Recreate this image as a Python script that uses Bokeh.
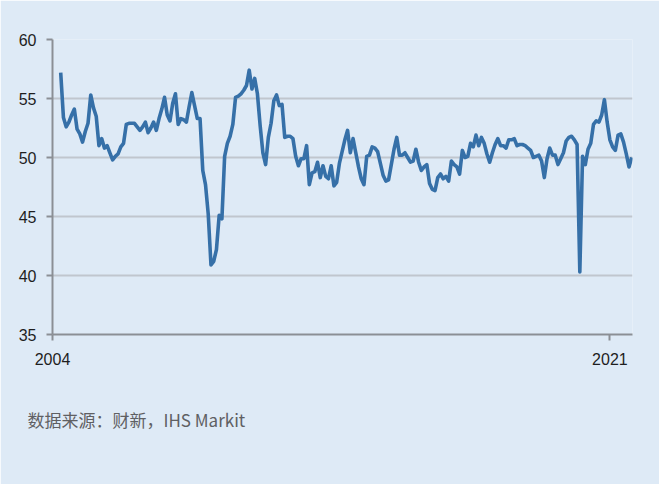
from bokeh.plotting import figure
from bokeh.models import FixedTicker, Title, Range1d, ColumnDataSource
from bokeh.embed import file_html
from bokeh.resources import INLINE

# Caixin China manufacturing PMI, monthly, Apr 2004 - Sep 2021
start_year = 2004
start_month = 4
pmi_2004 = [57.2, 53.4, 52.6, 53.0, 53.6, 54.1, 52.4, 52.0, 51.3]
pmi_2005 = [52.2, 52.9, 55.3, 54.2, 53.5, 51.0, 51.6, 50.8, 51.0, 50.4, 49.8, 50.1]
pmi_2006 = [50.3, 50.9, 51.2, 52.8, 52.9, 52.9, 52.9, 52.6, 52.3, 52.6, 53.0, 52.1]
pmi_2007 = [52.5, 53.0, 52.3, 53.3, 54.1, 55.1, 53.6, 53.1, 54.6, 55.4, 52.8, 53.3]
pmi_2008 = [53.2, 53.0, 54.3, 55.5, 54.4, 53.3, 53.3, 48.9, 47.7, 45.2, 40.9, 41.2]
pmi_2009 = [42.2, 45.1, 44.8, 50.1, 51.2, 51.8, 52.8, 55.1, 55.2, 55.4, 55.7, 56.1]
pmi_2010 = [57.4, 55.8, 56.7, 55.4, 52.7, 50.4, 49.4, 51.7, 52.9, 54.8, 55.3, 54.4]
pmi_2011 = [54.5, 51.7, 51.8, 51.8, 51.6, 50.1, 49.3, 49.9, 49.9, 51.0, 47.7, 48.7]
pmi_2012 = [48.8, 49.6, 48.3, 49.3, 48.4, 48.2, 49.3, 47.6, 47.9, 49.5, 50.5, 51.5]
pmi_2013 = [52.3, 50.4, 51.6, 50.4, 49.2, 48.2, 47.7, 50.1, 50.2, 50.9, 50.8, 50.5]
pmi_2014 = [49.5, 48.5, 48.0, 48.1, 49.4, 50.7, 51.7, 50.2, 50.2, 50.4, 50.0, 49.6]
pmi_2015 = [49.7, 50.7, 49.6, 48.9, 49.2, 49.4, 47.8, 47.3, 47.2, 48.3, 48.6, 48.2]
pmi_2016 = [48.4, 48.0, 49.7, 49.4, 49.2, 48.6, 50.6, 50.0, 50.1, 51.2, 50.9, 51.9]
pmi_2017 = [51.0, 51.7, 51.2, 50.3, 49.6, 50.4, 51.1, 51.6, 51.0, 51.0, 50.8, 51.5]
pmi_2018 = [51.5, 51.6, 51.0, 51.1, 51.1, 51.0, 50.8, 50.6, 50.0, 50.1, 50.2, 49.7]
pmi_2019 = [48.3, 49.9, 50.8, 50.2, 50.2, 49.4, 49.9, 50.4, 51.4, 51.7, 51.8, 51.5]
pmi_2020 = [51.1, 40.3, 50.1, 49.4, 50.7, 51.2, 52.8, 53.1, 53.0, 53.6, 54.9, 53.0]
pmi_2021 = [51.5, 50.9, 50.6, 51.9, 52.0, 51.3, 50.3, 49.2, 50.0]

y_ticks = [35, 40, 45, 50, 55, 60]
x_ticks = [2004, 2021]
x_tick_labels = ["2004", "2021"]
source_text = "数据来源：财新，IHS Markit"

values = (pmi_2004 + pmi_2005 + pmi_2006 + pmi_2007 + pmi_2008 + pmi_2009 +
          pmi_2010 + pmi_2011 + pmi_2012 + pmi_2013 + pmi_2014 + pmi_2015 +
          pmi_2016 + pmi_2017 + pmi_2018 + pmi_2019 + pmi_2020 + pmi_2021)
dates = []
for i in range(len(values)):
    m = start_month - 1 + i
    dates.append(start_year + m // 12 + (m % 12) / 12.0)

BG = "#deeaf6"
LINE = "#3670a8"
GRID = "#c0c6ce"
AXIS = "#8b8f95"
FONT = "Liberation Sans"

W, H = 659, 484
p = figure(width=W, height=H, output_backend="svg", toolbar_location=None,
           x_range=Range1d(2004, 2021.69), y_range=Range1d(35, 60),
           min_border_left=52, min_border_right=27, min_border_top=39,
           min_border_bottom=150)
p.background_fill_color = BG
p.border_fill_color = BG
p.outline_line_color = None

src = ColumnDataSource(dict(x=dates, y=values))
p.line("x", "y", source=src, line_color=LINE, line_width=3.6, line_join="round")

p.xgrid.grid_line_color = None
p.ygrid.grid_line_color = GRID
p.ygrid.grid_line_width = 2
p.ygrid.ticker = FixedTicker(ticks=y_ticks[1:])

p.yaxis.ticker = FixedTicker(ticks=y_ticks)
p.xaxis.ticker = FixedTicker(ticks=x_ticks)
p.xaxis.major_label_overrides = {t: l for t, l in zip(x_ticks, x_tick_labels)}
for ax in (p.xaxis, p.yaxis):
    ax.axis_line_color = AXIS
    ax.axis_line_width = 2
    ax.major_tick_line_color = AXIS
    ax.major_tick_line_width = 2
    ax.major_tick_out = 6
    ax.major_tick_in = 0
    ax.minor_tick_line_color = None
    ax.major_label_text_font = FONT
    ax.major_label_text_font_size = "16px"
    ax.major_label_text_color = "#1e1e1e"
p.yaxis.major_label_standoff = 10
p.xaxis.major_label_standoff = 12

p.add_layout(Title(text=source_text, align="left", offset=-25, standoff=75,
                   text_font="Noto Sans CJK SC", text_font_size="17px",
                   text_font_style="normal", text_color="#5f6063"), "below")

open("out.html", "w").write(file_html(p, INLINE))
